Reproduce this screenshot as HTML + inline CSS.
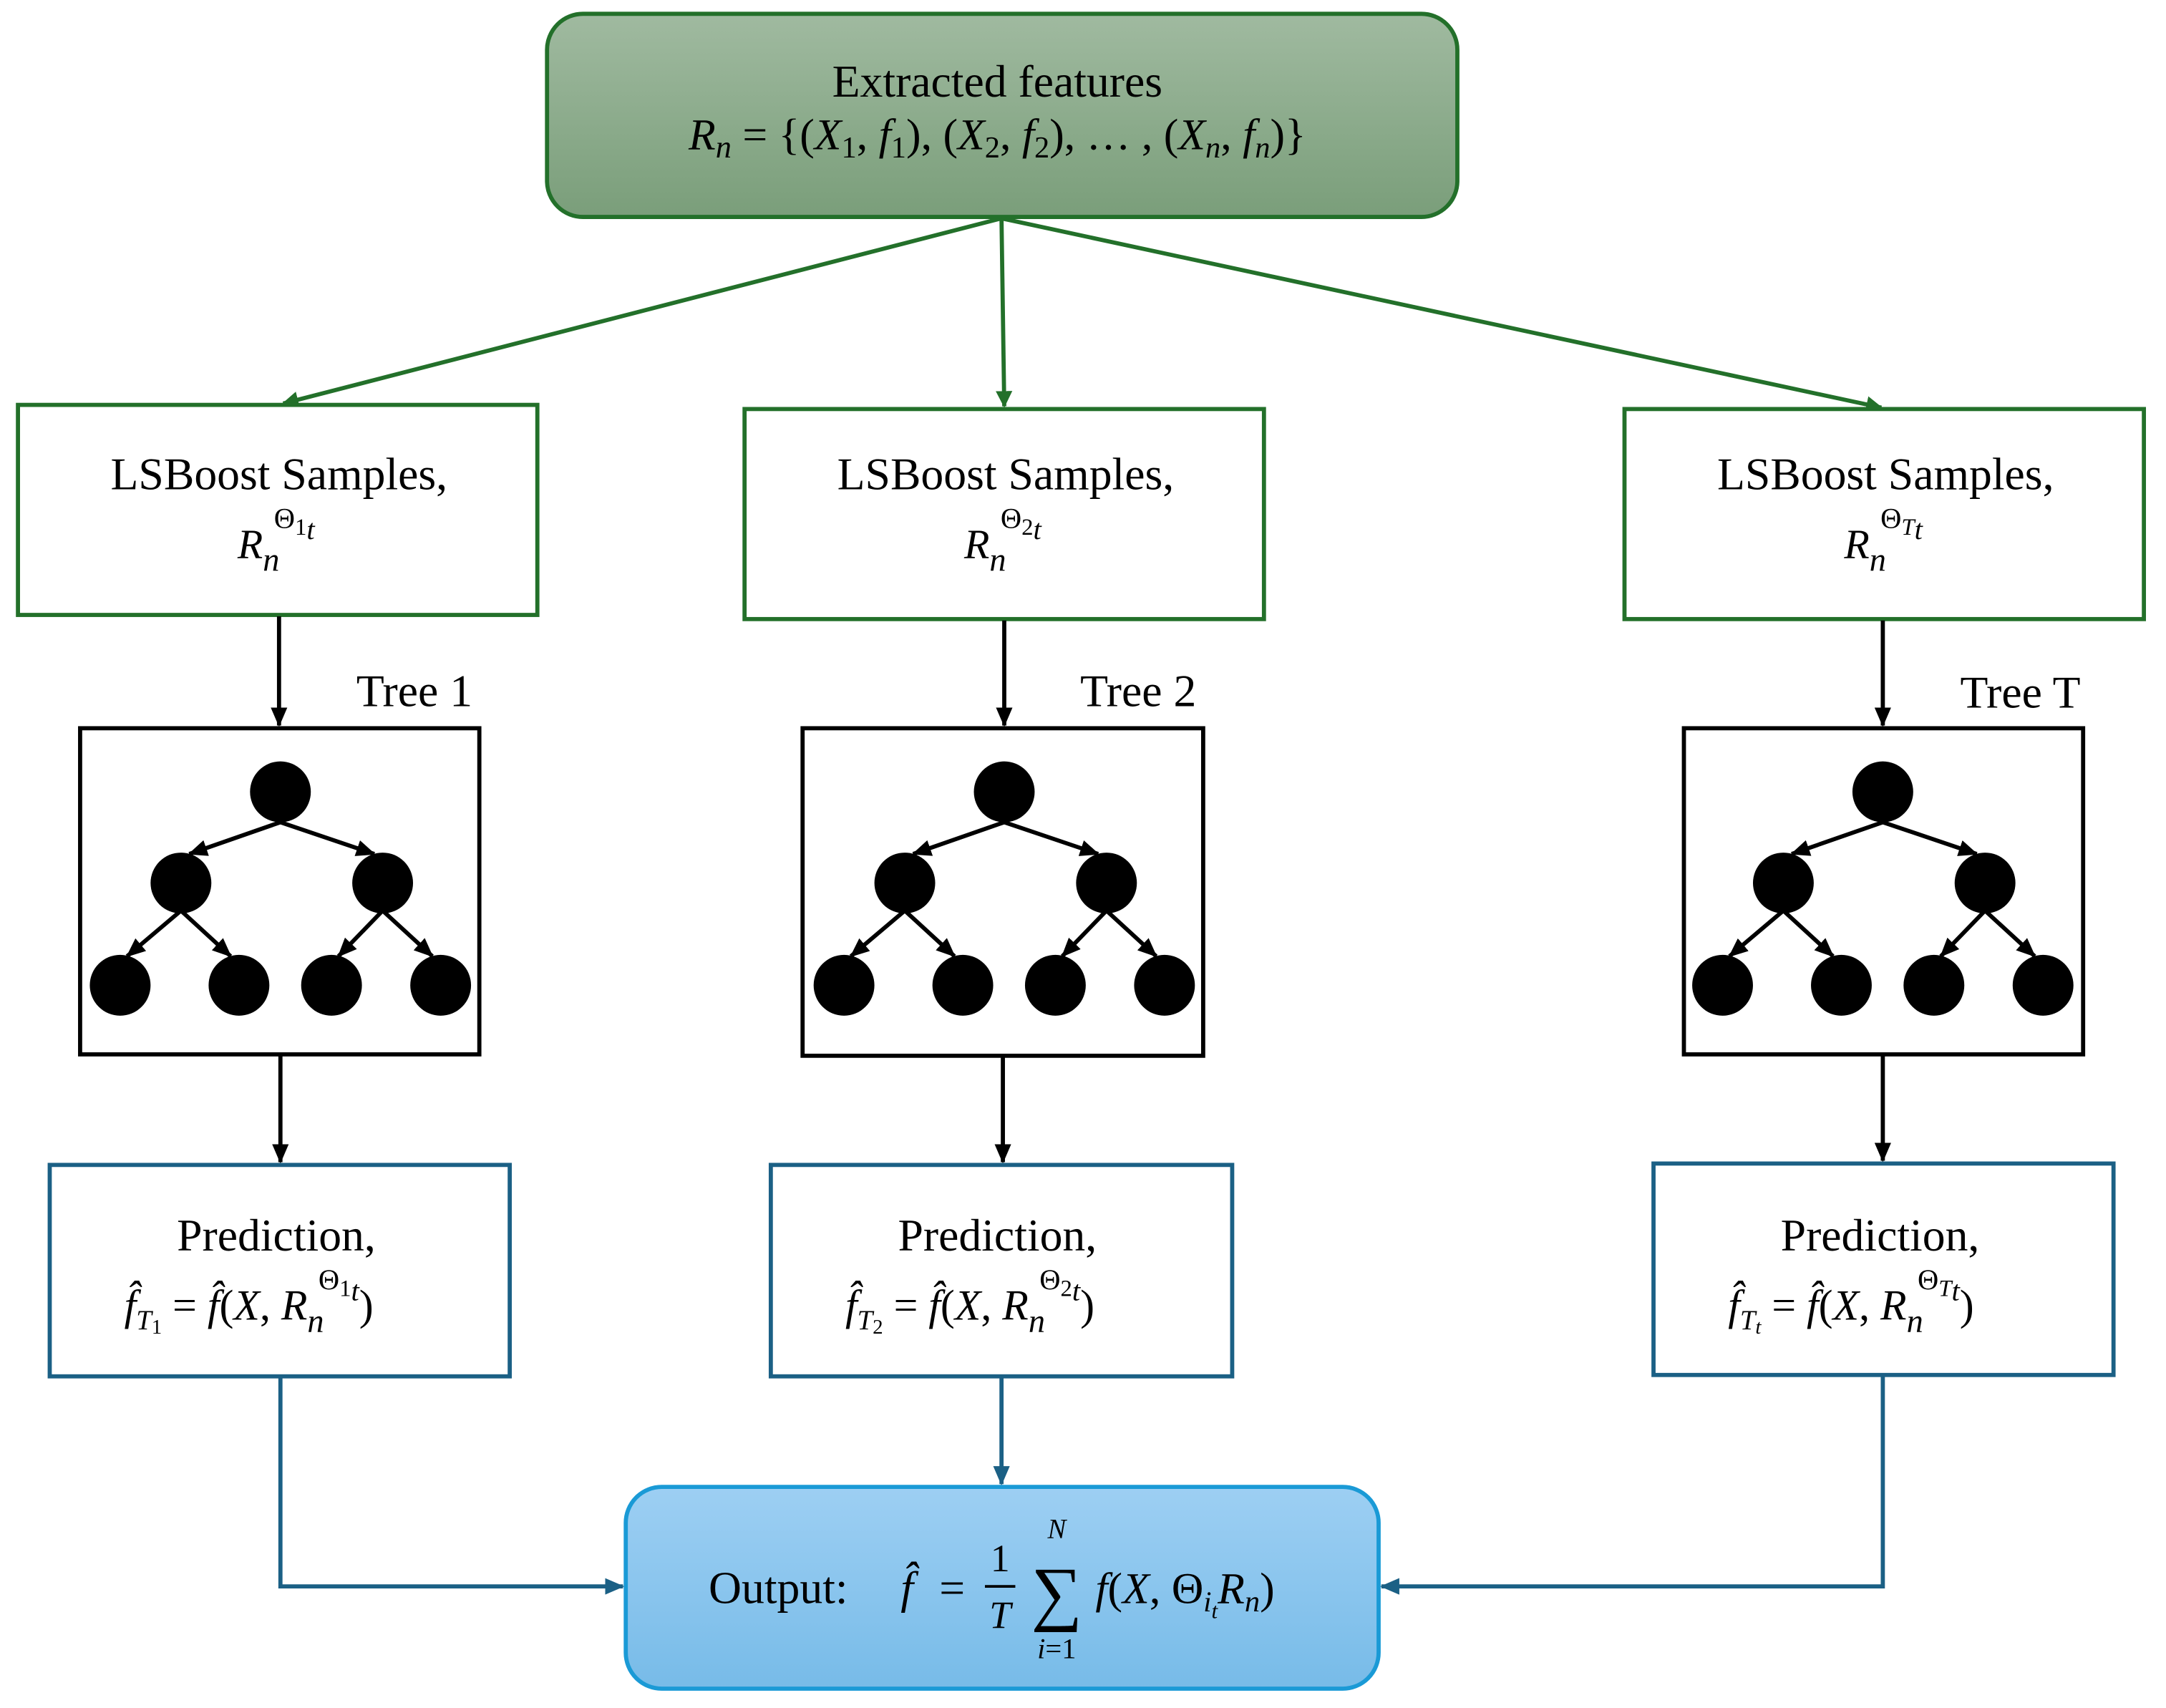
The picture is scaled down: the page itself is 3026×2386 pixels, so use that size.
<!DOCTYPE html>
<html><head><meta charset="utf-8"><style>
html,body{margin:0;padding:0;background:#fff;}
svg{display:block;}
text{font-family:"Liberation Serif",serif;fill:#000;}
.it{font-style:italic;}
</style></head><body>
<svg width="3026" height="2386" viewBox="0 0 1568 1236" preserveAspectRatio="none" xmlns="http://www.w3.org/2000/svg">
<defs>
<linearGradient id="gg" x1="0" y1="0" x2="0" y2="1"><stop offset="0" stop-color="#a0baa0"/><stop offset="1" stop-color="#7a9e7a"/></linearGradient>
<linearGradient id="bg" x1="0" y1="0" x2="0" y2="1"><stop offset="0" stop-color="#9dcff3"/><stop offset="1" stop-color="#77bbe8"/></linearGradient>
<marker id="ag" markerWidth="12" markerHeight="12" refX="11" refY="6" orient="auto" markerUnits="userSpaceOnUse"><path d="M0,0 L12,6 L0,12 z" fill="#23702a"/></marker>
<marker id="ak" markerWidth="14" markerHeight="12" refX="13" refY="6" orient="auto" markerUnits="userSpaceOnUse"><path d="M0,0 L14,6 L0,12 z" fill="#000"/></marker>
<marker id="ab" markerWidth="14" markerHeight="12" refX="13" refY="6" orient="auto" markerUnits="userSpaceOnUse"><path d="M0,0 L14,6 L0,12 z" fill="#1b6085"/></marker>
<g id="tree">
<g stroke="#000" stroke-width="3" fill="none" marker-end="url(#ak)">
<line x1="203" y1="595" x2="137" y2="618"/>
<line x1="203" y1="595" x2="271" y2="618"/>
<line x1="131" y1="659" x2="92" y2="692"/>
<line x1="131" y1="659" x2="167" y2="692"/>
<line x1="277" y1="659" x2="245" y2="692"/>
<line x1="277" y1="659" x2="313" y2="692"/>
</g>
<g fill="#000">
<ellipse cx="203" cy="573" rx="22" ry="22"/>
<ellipse cx="131" cy="639" rx="22" ry="22"/>
<ellipse cx="277" cy="639" rx="22" ry="22"/>
<ellipse cx="87" cy="713" rx="22" ry="22"/>
<ellipse cx="173" cy="713" rx="22" ry="22"/>
<ellipse cx="240" cy="713" rx="22" ry="22"/>
<ellipse cx="319" cy="713" rx="22" ry="22"/>
</g>
</g>
</defs>

<rect x="396" y="10" width="659" height="147" rx="26" fill="url(#gg)" stroke="#23702a" stroke-width="3"/>
<text x="722" y="70" font-size="33" text-anchor="middle">Extracted features</text>
<text x="722" y="108" font-size="32" text-anchor="middle"><tspan class="it">R</tspan><tspan class="it" font-size="23" dy="6">n</tspan><tspan dy="-6"> = {(</tspan><tspan class="it">X</tspan><tspan font-size="22" dy="6">1</tspan><tspan dy="-6">, </tspan><tspan class="it">f</tspan><tspan font-size="22" dy="6">1</tspan><tspan dy="-6">), (</tspan><tspan class="it">X</tspan><tspan font-size="22" dy="6">2</tspan><tspan dy="-6">, </tspan><tspan class="it">f</tspan><tspan font-size="22" dy="6">2</tspan><tspan dy="-6">), … , (</tspan><tspan class="it">X</tspan><tspan class="it" font-size="22" dy="6">n</tspan><tspan dy="-6">, </tspan><tspan class="it">f</tspan><tspan class="it" font-size="22" dy="6">n</tspan><tspan dy="-6">)}</tspan></text>

<g stroke="#23702a" stroke-width="3" marker-end="url(#ag)">
<line x1="725" y1="158" x2="205" y2="292"/>
<line x1="725" y1="158" x2="727" y2="294"/>
<line x1="725" y1="158" x2="1362" y2="295"/>
</g>

<g fill="#fff" stroke="#23702a" stroke-width="3">
<rect x="13" y="293" width="376" height="152"/>
<rect x="539" y="296" width="376" height="152"/>
<rect x="1176" y="296" width="376" height="152"/>
</g>
<g font-size="33" text-anchor="middle">
<text x="202" y="354">LSBoost Samples,</text>
<text x="728" y="354">LSBoost Samples,</text>
<text x="1365" y="354">LSBoost Samples,</text>
</g>
<g font-size="30">
<text x="172" y="404"><tspan class="it">R</tspan><tspan class="it" font-size="24" dy="9">n</tspan><tspan font-size="21" dx="-4" dy="-31">Θ</tspan><tspan font-size="17" dy="5">1</tspan><tspan class="it" font-size="21" dy="3">t</tspan></text>
<text x="698" y="404"><tspan class="it">R</tspan><tspan class="it" font-size="24" dy="9">n</tspan><tspan font-size="21" dx="-4" dy="-31">Θ</tspan><tspan font-size="17" dy="5">2</tspan><tspan class="it" font-size="21" dy="3">t</tspan></text>
<text x="1335" y="404"><tspan class="it">R</tspan><tspan class="it" font-size="24" dy="9">n</tspan><tspan font-size="21" dx="-4" dy="-31">Θ</tspan><tspan class="it" font-size="17" dy="5">T</tspan><tspan class="it" font-size="21" dy="3">t</tspan></text>
</g>

<g stroke="#000" stroke-width="3" marker-end="url(#ak)">
<line x1="202" y1="446" x2="202" y2="525"/>
<line x1="727" y1="449" x2="727" y2="525"/>
<line x1="1363" y1="449" x2="1363" y2="525"/>
<line x1="203" y1="764" x2="203" y2="841"/>
<line x1="726" y1="765" x2="726" y2="841"/>
<line x1="1363" y1="764" x2="1363" y2="840"/>
</g>
<g font-size="33">
<text x="258" y="511">Tree 1</text>
<text x="782" y="511">Tree 2</text>
<text x="1419" y="512">Tree T</text>
</g>

<g fill="none" stroke="#000" stroke-width="3">
<rect x="58" y="527" width="289" height="236"/>
<rect x="581" y="527" width="290" height="237"/>
<rect x="1219" y="527" width="289" height="236"/>
</g>
<use href="#tree"/>
<use href="#tree" transform="translate(524,0)"/>
<use href="#tree" transform="translate(1160,0)"/>

<g fill="#fff" stroke="#1b6085" stroke-width="3">
<rect x="36" y="843" width="333" height="153"/>
<rect x="558" y="843" width="334" height="153"/>
<rect x="1197" y="842" width="333" height="153"/>
</g>
<g font-size="33" text-anchor="middle">
<text x="200" y="905">Prediction,</text>
<text x="722" y="905">Prediction,</text>
<text x="1361" y="905">Prediction,</text>
</g>
<g font-size="31">
<text x="90" y="955"><tspan class="it">f̂</tspan><tspan class="it" font-size="20" dy="7">T</tspan><tspan font-size="15" dy="3">1</tspan><tspan dy="-10"> = </tspan><tspan class="it">f̂</tspan><tspan>(</tspan><tspan class="it">X</tspan><tspan>, </tspan><tspan class="it">R</tspan><tspan class="it" font-size="24" dy="9">n</tspan><tspan font-size="21" dx="-4" dy="-31">Θ</tspan><tspan font-size="17" dy="5">1</tspan><tspan class="it" font-size="21" dy="3">t</tspan><tspan dy="14">)</tspan></text>
<text x="612" y="955"><tspan class="it">f̂</tspan><tspan class="it" font-size="20" dy="7">T</tspan><tspan font-size="15" dy="3">2</tspan><tspan dy="-10"> = </tspan><tspan class="it">f̂</tspan><tspan>(</tspan><tspan class="it">X</tspan><tspan>, </tspan><tspan class="it">R</tspan><tspan class="it" font-size="24" dy="9">n</tspan><tspan font-size="21" dx="-4" dy="-31">Θ</tspan><tspan font-size="17" dy="5">2</tspan><tspan class="it" font-size="21" dy="3">t</tspan><tspan dy="14">)</tspan></text>
<text x="1251" y="955"><tspan class="it">f̂</tspan><tspan class="it" font-size="20" dy="7">T</tspan><tspan class="it" font-size="15" dy="3">t</tspan><tspan dy="-10"> = </tspan><tspan class="it">f̂</tspan><tspan>(</tspan><tspan class="it">X</tspan><tspan>, </tspan><tspan class="it">R</tspan><tspan class="it" font-size="24" dy="9">n</tspan><tspan font-size="21" dx="-4" dy="-31">Θ</tspan><tspan class="it" font-size="17" dy="5">T</tspan><tspan class="it" font-size="21" dy="3">t</tspan><tspan dy="14">)</tspan></text>
</g>

<g fill="none" stroke="#1b6085" stroke-width="3" marker-end="url(#ab)">
<polyline points="203,997 203,1148 451,1148"/>
<line x1="725" y1="997" x2="725" y2="1074"/>
<polyline points="1363,996 1363,1148 1000,1148"/>
</g>

<rect x="453" y="1076" width="545" height="146" rx="26" fill="url(#bg)" stroke="#1a9ad6" stroke-width="3"/>
<text x="513" y="1160" font-size="33">Output:</text>
<text x="652" y="1160" font-size="33" class="it">f̂</text>
<text x="680" y="1160" font-size="33">=</text>
<text x="724" y="1137" font-size="28" text-anchor="middle">1</text>
<line x1="713" y1="1148" x2="735" y2="1148" stroke="#000" stroke-width="2"/>
<text x="724" y="1178" font-size="28" text-anchor="middle" class="it">T</text>
<text x="765" y="1113" font-size="20" text-anchor="middle" class="it">N</text>
<text x="765" y="1170" font-size="52" text-anchor="middle">∑</text>
<text x="765" y="1200" font-size="21" text-anchor="middle"><tspan class="it">i</tspan>=1</text>
<text x="793" y="1160" font-size="32"><tspan class="it">f</tspan>(<tspan class="it">X</tspan>, Θ<tspan class="it" font-size="21" dy="6">i</tspan><tspan class="it" font-size="16" dy="5">t</tspan><tspan class="it" dy="-11">R</tspan><tspan class="it" font-size="22" dy="6">n</tspan><tspan dy="-6">)</tspan></text>
</svg>
</body></html>
